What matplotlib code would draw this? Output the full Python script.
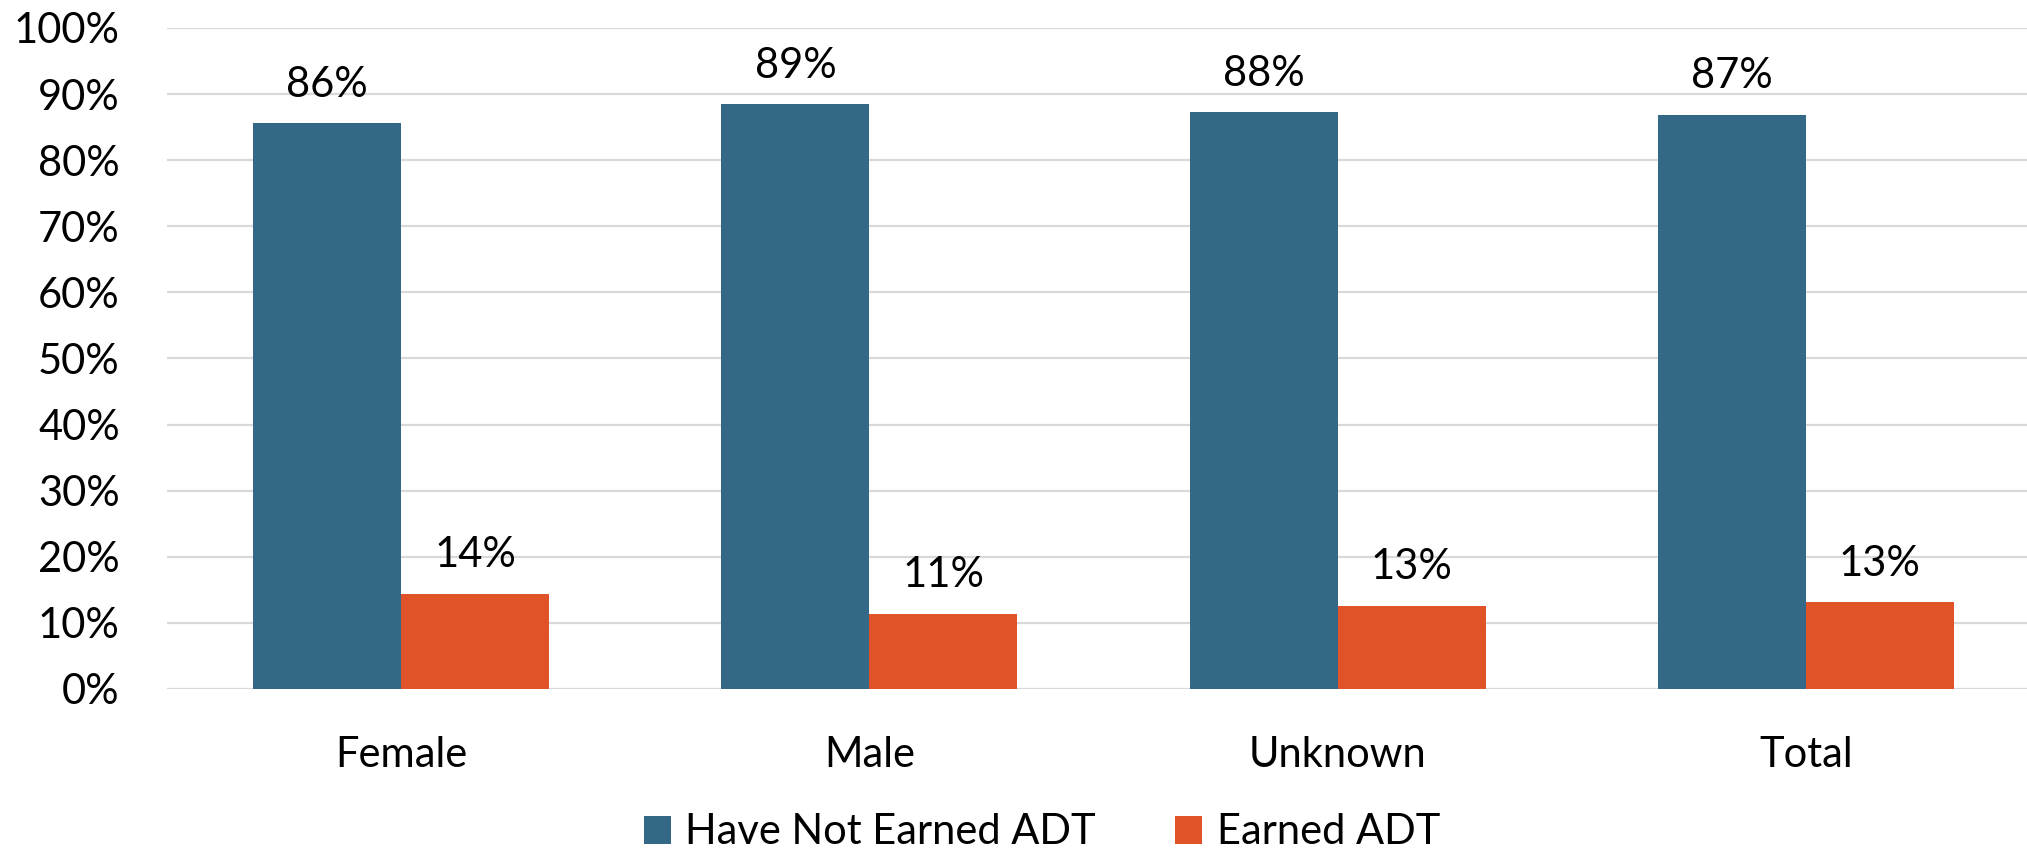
import numpy as np
import matplotlib.pyplot as plt

categories = ['Female', 'Male', 'Unknown', 'Total']
not_earned = [85.6, 88.5, 87.3, 86.9]
earned = [14.4, 11.4, 12.6, 13.1]
not_earned_labels = ['86%', '89%', '88%', '87%']
earned_labels = ['14%', '11%', '13%', '13%']
series_names = ['Have Not Earned ADT', 'Earned ADT']
yticks = [0, 10, 20, 30, 40, 50, 60, 70, 80, 90, 100]

blue = '#336987'
orange = '#E05328'

plt.rcParams['font.family'] = ['Lato', 'DejaVu Sans']

fig = plt.figure(figsize=(20.27, 8.51), dpi=100)
ax = fig.add_axes([0.0824, 0.1904, 0.924, 0.7767])

x = np.arange(len(categories))
w = 0.316
b1 = ax.bar(x - w / 2, not_earned, w, color=blue, label=series_names[0], zorder=3)
b2 = ax.bar(x + w / 2, earned, w, color=orange, label=series_names[1], zorder=3)

for bars, labs in [(b1, not_earned_labels), (b2, earned_labels)]:
    for bar, lab in zip(bars, labs):
        ax.annotate(lab, (bar.get_x() + bar.get_width() / 2, bar.get_height()),
                    xytext=(0, 19), textcoords='offset points',
                    ha='center', va='baseline', fontsize=30)

ax.set_xlim(-0.5, len(categories) - 0.5)
ax.set_ylim(0, 100)
ax.set_yticks(yticks)
ax.set_yticklabels([f'{t}%' for t in yticks])
ax.set_xticks(x)
ax.set_xticklabels(categories)
ax.tick_params(axis='both', length=0, labelsize=30)
ax.tick_params(axis='y', pad=34)
ax.tick_params(axis='x', pad=34)
ax.yaxis.grid(True, color='#D9D9D9', linewidth=1.6, zorder=0)
for s in ax.spines.values():
    s.set_visible(False)

fig.legend(loc='center', bbox_to_anchor=(0.514, 0.022), ncol=2, frameon=False,
           fontsize=30, handlelength=0.65, handleheight=0.65,
           handletextpad=0.35, columnspacing=1.9)

fig.savefig('out.png', dpi=100)
